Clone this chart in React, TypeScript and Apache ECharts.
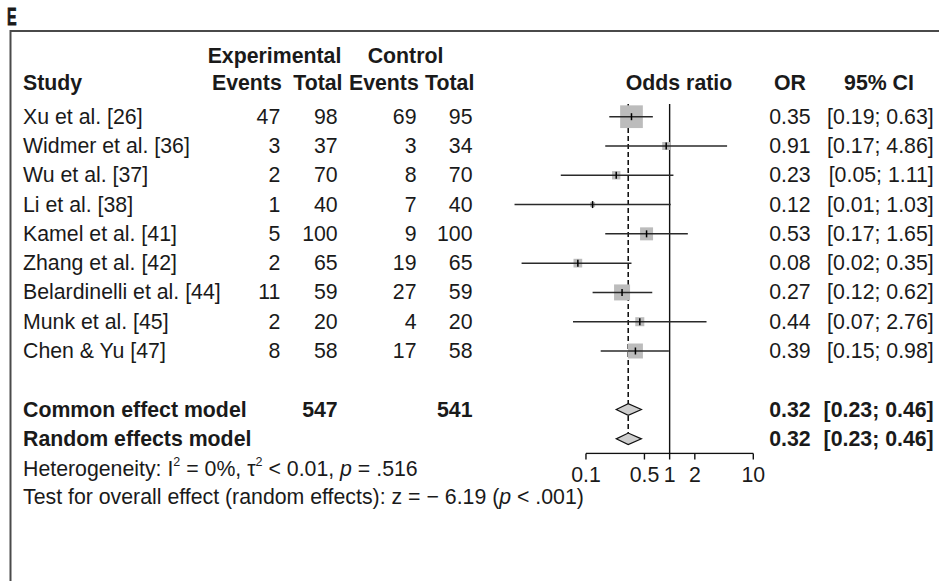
import React, { useEffect, useRef } from "react";
import * as echarts from "echarts";

// ---------- data ----------
const studies = [
  "Xu et al. [26]",
  "Widmer et al. [36]",
  "Wu et al. [37]",
  "Li et al. [38]",
  "Kamel et al. [41]",
  "Zhang et al. [42]",
  "Belardinelli et al. [44]",
  "Munk et al. [45]",
  "Chen & Yu [47]",
];
const expEvents = [47, 3, 2, 1, 5, 2, 11, 2, 8];
const expTotal = [98, 37, 70, 40, 100, 65, 59, 20, 58];
const ctrlEvents = [69, 3, 8, 7, 9, 19, 27, 4, 17];
const ctrlTotal = [95, 34, 70, 40, 100, 65, 59, 20, 58];
const oddsRatio = [0.35, 0.91, 0.23, 0.12, 0.53, 0.08, 0.27, 0.44, 0.39];
const ciLower = [0.19, 0.17, 0.05, 0.014, 0.17, 0.017, 0.12, 0.07, 0.15];
const ciUpper = [0.63, 4.86, 1.11, 1.03, 1.65, 0.35, 0.62, 2.76, 0.98];
const weights = [34.8, 4.3, 4.7, 1.7, 11.4, 5.1, 17.3, 5.5, 15.2];

const modelNames = ["Common effect model", "Random effects model"];
const modelOR = [0.32, 0.32];
const modelLower = [0.23, 0.23];
const modelUpper = [0.46, 0.46];
const modelRows = [10, 11];

const tickValues = [0.1, 0.5, 1, 2, 10];
const tickLabels = ["0.1", "0.5", "1", "2", "10"];

const pooledOR = 0.32;

// ---------- style / layout ----------
const FAMILY = '"Liberation Sans", Arial, Helvetica, sans-serif';
const FS = 21.3;
const TXT = "#1a1a1a";
const font = (bold?: boolean) => `${bold ? "bold " : ""}${FS}px ${FAMILY}`;
const AXIS_ROW = 11.5;

const COL = {
  study: 23,
  expEv: 280.3,
  expTot: 337.7,
  ctrlEv: 416.5,
  ctrlTot: 472.5,
  or: 810.7,
  ci: 933.7,
};

const fmt = (v: number) => v.toFixed(2);

function textEl(text: string, x: number, y: number, align: string, bold?: boolean, extra?: any) {
  return {
    type: "text",
    x,
    y,
    silent: true,
    style: {
      text,
      font: font(bold),
      fill: TXT,
      align,
      verticalAlign: "middle",
      ...(extra || {}),
    },
  };
}

const richStyles = {
  sup: { font: `12.5px ${FAMILY}`, fill: TXT, verticalAlign: "top", lineHeight: 13 },
  it: { font: `italic ${FS}px ${FAMILY}`, fill: TXT, lineHeight: 26 },
};

export default function App() {
  const ref = useRef<HTMLDivElement>(null);
  useEffect(() => {
    if (!ref.current) return;
    const chart = echarts.init(ref.current, undefined, { renderer: "svg" });

    const option: any = {
      animation: false,
      backgroundColor: "#ffffff",
      grid: { left: 502.3, right: 185.7, top: 102.06, bottom: 127.5 },
      xAxis: { type: "log", logBase: 10, min: 0.01, max: 10, show: false },
      yAxis: { type: "value", inverse: true, min: -0.5, max: AXIS_ROW, show: false },
      graphic: {
        elements: [
          {
            type: "rect",
            silent: true,
            shape: { x: 10.5, y: 31, width: 1000, height: 600 },
            style: { fill: "none", stroke: "#4a4a4a", lineWidth: 2 },
          },
          {
            type: "text",
            x: 7,
            y: 17,
            scaleX: 0.6,
            scaleY: 1,
            silent: true,
            style: {
              text: "E",
              font: `bold 24px ${FAMILY}`,
              fill: TXT,
              stroke: TXT,
              lineWidth: 0.8,
              align: "left",
              verticalAlign: "middle",
            },
          },
          textEl("Experimental", 274.5, 56, "center", true),
          textEl("Control", 405.5, 56, "center", true),
          textEl("Study", COL.study, 82.5, "left", true),
          textEl("Events", 281.8, 82.5, "right", true),
          textEl("Total", 342.5, 82.5, "right", true),
          textEl("Events", 418.8, 82.5, "right", true),
          textEl("Total", 474.3, 82.5, "right", true),
          textEl("Odds ratio", 679, 82.5, "center", true),
          textEl("OR", 790, 82.5, "center", true),
          textEl("95% CI", 879, 82.5, "center", true),
          textEl(
            "Heterogeneity: I{sup|2} = 0%, τ{sup|2} < 0.01, {it|p} = .516",
            COL.study,
            468.5,
            "left",
            false,
            { lineHeight: 26, rich: richStyles }
          ),
          textEl(
            "Test for overall effect (random effects): z = − 6.19 ({it|p} < .001)",
            COL.study,
            496.5,
            "left",
            false,
            { lineHeight: 26, rich: richStyles }
          ),
        ],
      },
      series: [
        {
          type: "line",
          name: "no effect",
          silent: true,
          symbol: "none",
          data: [
            [1, -0.43],
            [1, AXIS_ROW],
          ],
          lineStyle: { color: "#111", width: 1.4 },
          z: 1,
        },
        {
          type: "line",
          name: "pooled",
          silent: true,
          symbol: "none",
          data: [
            [pooledOR, -0.43],
            [pooledOR, 11],
          ],
          lineStyle: { color: "#111", width: 1.6, type: [5, 3] },
          z: 1,
        },
        {
          type: "line",
          name: "axis",
          silent: true,
          symbol: "none",
          data: [
            [tickValues[0], AXIS_ROW],
            [tickValues[tickValues.length - 1], AXIS_ROW],
          ],
          lineStyle: { color: "#111", width: 1.4 },
          z: 1,
        },
        {
          type: "custom",
          name: "ticks",
          silent: true,
          clip: false,
          z: 2,
          data: tickValues.map((v) => [v, AXIS_ROW]),
          renderItem: (params: any, api: any) => {
            const p = api.coord([api.value(0), api.value(1)]);
            return {
              type: "group",
              children: [
                {
                  type: "line",
                  shape: { x1: p[0], y1: p[1], x2: p[0], y2: p[1] + 6 },
                  style: { stroke: "#111", lineWidth: 1.4 },
                },
                textEl(tickLabels[params.dataIndex], p[0], p[1] + 21, "center"),
              ],
            };
          },
        },
        {
          type: "custom",
          name: "studies",
          silent: true,
          clip: false,
          z: 3,
          data: studies.map((_, i) => [oddsRatio[i], i, ciLower[i], ciUpper[i], weights[i]]),
          renderItem: (params: any, api: any) => {
            const row = api.value(1);
            const c = api.coord([api.value(0), row]);
            const lo = api.coord([api.value(2), row]);
            const hi = api.coord([api.value(3), row]);
            const s = 3.85 * Math.sqrt(api.value(4));
            return {
              type: "group",
              children: [
                {
                  type: "rect",
                  shape: { x: c[0] - s / 2, y: c[1] - s / 2, width: s, height: s },
                  style: { fill: "#bcbcbc" },
                },
                {
                  type: "line",
                  shape: { x1: lo[0], y1: lo[1], x2: hi[0], y2: hi[1] },
                  style: { stroke: "#2a2a2a", lineWidth: 1.5 },
                },
                {
                  type: "line",
                  shape: { x1: c[0], y1: c[1] - 3.5, x2: c[0], y2: c[1] + 3.5 },
                  style: { stroke: "#000", lineWidth: 1.5 },
                },
              ],
            };
          },
        },
        {
          type: "custom",
          name: "models",
          silent: true,
          clip: false,
          z: 3,
          data: modelNames.map((_, k) => [modelOR[k], modelRows[k], modelLower[k], modelUpper[k]]),
          renderItem: (params: any, api: any) => {
            const row = api.value(1);
            const c = api.coord([api.value(0), row]);
            const lo = api.coord([api.value(2), row]);
            const hi = api.coord([api.value(3), row]);
            const h = 5.8;
            return {
              type: "polygon",
              shape: {
                points: [
                  [lo[0], c[1]],
                  [c[0], c[1] - h],
                  [hi[0], c[1]],
                  [c[0], c[1] + h],
                ],
              },
              style: { fill: "#cfcfcf", stroke: "#111", lineWidth: 1.2 },
            };
          },
        },
        {
          type: "custom",
          name: "study table",
          silent: true,
          clip: false,
          z: 4,
          data: studies.map((_, i) => [1, i]),
          renderItem: (params: any, api: any) => {
            const i = params.dataIndex;
            const y = api.coord([1, api.value(1)])[1];
            return {
              type: "group",
              children: [
                textEl(studies[i], COL.study, y, "left"),
                textEl(String(expEvents[i]), COL.expEv, y, "right"),
                textEl(String(expTotal[i]), COL.expTot, y, "right"),
                textEl(String(ctrlEvents[i]), COL.ctrlEv, y, "right"),
                textEl(String(ctrlTotal[i]), COL.ctrlTot, y, "right"),
                textEl(fmt(oddsRatio[i]), COL.or, y, "right"),
                textEl(`[${fmt(ciLower[i])}; ${fmt(ciUpper[i])}]`, COL.ci, y, "right"),
              ],
            };
          },
        },
        {
          type: "custom",
          name: "model table",
          silent: true,
          clip: false,
          z: 4,
          data: modelNames.map((_, k) => [1, modelRows[k]]),
          renderItem: (params: any, api: any) => {
            const k = params.dataIndex;
            const y = api.coord([1, api.value(1)])[1];
            const children: any[] = [
              textEl(modelNames[k], COL.study, y, "left", true),
              textEl(fmt(modelOR[k]), COL.or, y, "right", true),
              textEl(`[${fmt(modelLower[k])}; ${fmt(modelUpper[k])}]`, COL.ci, y, "right", true),
            ];
            if (k === 0) {
              const sumE = expTotal.reduce((a, b) => a + b, 0);
              const sumC = ctrlTotal.reduce((a, b) => a + b, 0);
              children.push(textEl(String(sumE), COL.expTot, y, "right", true));
              children.push(textEl(String(sumC), COL.ctrlTot, y, "right", true));
            }
            return { type: "group", children };
          },
        },
      ],
    };

    chart.setOption(option);
    return () => chart.dispose();
  }, []);

  return (
    <div
      ref={ref}
      style={{ position: "fixed", left: 0, top: 0, width: 939, height: 581, background: "#fff" }}
    />
  );
}
